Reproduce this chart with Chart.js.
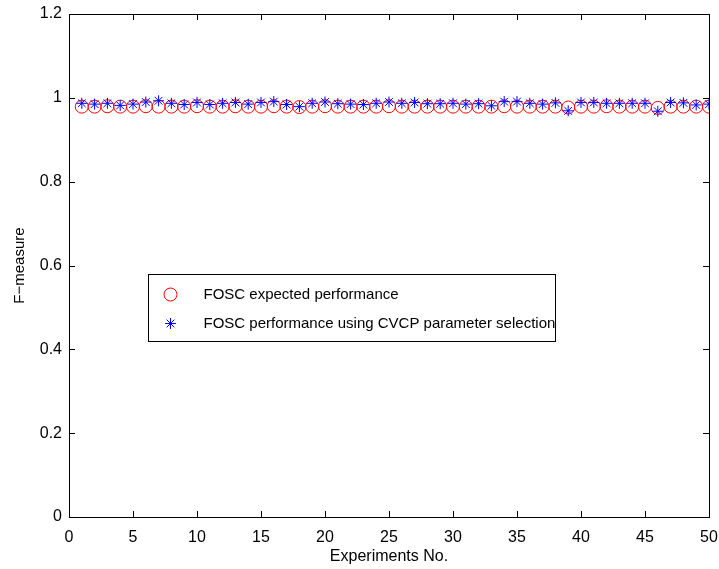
<!DOCTYPE html>
<html>
<head>
<meta charset="utf-8">
<script src="https://cdn.jsdelivr.net/npm/chart.js@4.4.1/dist/chart.umd.min.js"></script>
<style>
  html, body { margin: 0; padding: 0; background: #fff; }
  #wrap { width: 719px; height: 569px; }
</style>
</head>
<body>
<div id="wrap"><canvas id="mycanvas" width="719" height="569"></canvas></div>
<script>
// experiment numbers 1..50
var experiments = [1,2,3,4,5,6,7,8,9,10,11,12,13,14,15,16,17,18,19,20,
  21,22,23,24,25,26,27,28,29,30,31,32,33,34,35,36,37,38,39,40,
  41,42,43,44,45,46,47,48,49,50];

// FOSC expected performance (red circles)
var expected = [0.979,0.979,0.980,0.979,0.979,0.980,0.979,0.979,0.979,0.980,
  0.979,0.979,0.980,0.979,0.979,0.980,0.979,0.978,0.979,0.980,
  0.979,0.979,0.979,0.979,0.980,0.979,0.979,0.979,0.979,0.979,
  0.979,0.979,0.979,0.980,0.979,0.979,0.979,0.979,0.977,0.979,
  0.979,0.980,0.979,0.979,0.979,0.976,0.979,0.979,0.979,0.979];

// FOSC performance using CVCP parameter selection (blue asterisks)
var cvcp = [0.987,0.985,0.987,0.982,0.985,0.990,0.993,0.987,0.984,0.989,
  0.984,0.987,0.989,0.985,0.989,0.991,0.984,0.979,0.987,0.990,
  0.986,0.985,0.984,0.987,0.990,0.987,0.989,0.986,0.986,0.987,
  0.985,0.986,0.981,0.991,0.991,0.987,0.985,0.988,0.969,0.989,
  0.989,0.987,0.987,0.987,0.987,0.968,0.989,0.988,0.983,0.985];

var xTicks = [0,5,10,15,20,25,30,35,40,45,50];
var yTicks = [0,0.2,0.4,0.6,0.8,1,1.2];

var labels = ["FOSC expected performance", "FOSC performance using CVCP parameter selection"];

function toPoints(xs, ys) {
  var out = [];
  for (var i = 0; i < xs.length; i++) out.push({x: xs[i], y: ys[i]});
  return out;
}

var FONT = "'Liberation Sans', Arial, Helvetica, sans-serif";

// matlab style box + inward ticks on all four sides
var boxPlugin = {
  id: 'box',
  afterDraw: function(chart) {
    var ctx = chart.ctx, a = chart.chartArea;
    var sx = chart.scales.x, sy = chart.scales.y;
    var L = 6;
    ctx.save();
    ctx.strokeStyle = '#000';
    ctx.lineWidth = 1;
    ctx.beginPath();
    xTicks.forEach(function(v){
      var px = Math.round(sx.getPixelForValue(v)) + 0.5;
      if (v === xTicks[0] || v === xTicks[xTicks.length-1]) return;
      ctx.moveTo(px, a.bottom); ctx.lineTo(px, a.bottom - L);
      ctx.moveTo(px, a.top); ctx.lineTo(px, a.top + L);
    });
    yTicks.forEach(function(v){
      var py = Math.round(sy.getPixelForValue(v)) + 0.5;
      if (v === yTicks[0] || v === yTicks[yTicks.length-1]) return;
      ctx.moveTo(a.left, py); ctx.lineTo(a.left + L, py);
      ctx.moveTo(a.right, py); ctx.lineTo(a.right - L, py);
    });
    ctx.stroke();
    ctx.strokeRect(Math.round(a.left) + 0.5, Math.round(a.top) + 0.5,
      Math.round(a.right - a.left), Math.round(a.bottom - a.top));
    ctx.restore();
  }
};

// legend box inside the plot
var legendPlugin = {
  id: 'innerLegend',
  afterDraw: function(chart) {
    var ctx = chart.ctx, a = chart.chartArea;
    var w = a.right - a.left, h = a.bottom - a.top;
    var x0 = Math.round(a.left + w * 0.123) + 0.5;
    var x1 = Math.round(a.left + w * 0.76) + 0.5;
    var y0 = Math.round(a.top + h * 0.516) + 0.5;
    var y1 = Math.round(a.top + h * 0.651) + 0.5;
    ctx.save();
    ctx.fillStyle = '#fff';
    ctx.fillRect(x0, y0, x1 - x0, y1 - y0);
    ctx.strokeStyle = '#000';
    ctx.lineWidth = 1;
    ctx.strokeRect(x0, y0, x1 - x0, y1 - y0);
    var rows = [y0 + 20, y0 + 49];
    chart.data.datasets.forEach(function(ds, i) {
      ctx.strokeStyle = ds.borderColor;
      ctx.fillStyle = 'rgba(0,0,0,0)';
      ctx.lineWidth = ds.borderWidth;
      Chart.helpers.drawPoint(ctx, {
        pointStyle: ds.pointStyle, radius: ds.pointRadius,
        borderWidth: ds.borderWidth, rotation: 0
      }, x0 + 22, rows[i]);
      ctx.fillStyle = '#000';
      ctx.font = '15px ' + FONT;
      ctx.textBaseline = 'middle';
      ctx.textAlign = 'left';
      ctx.fillText(ds.label, x0 + 55, rows[i]);
    });
    ctx.restore();
  }
};

var chartdata = {
  datasets: [
    {
      label: labels[0],
      data: toPoints(experiments, expected),
      showLine: false,
      pointStyle: 'circle',
      pointRadius: 6.5,
      pointHoverRadius: 6.5,
      borderWidth: 1,
      borderColor: 'rgb(255, 0, 0)',
      backgroundColor: 'rgba(0,0,0,0)',
      order: 2
    },
    {
      label: labels[1],
      data: toPoints(experiments, cvcp),
      showLine: false,
      pointStyle: 'star',
      pointRadius: 5.5,
      pointHoverRadius: 5.5,
      borderWidth: 1,
      borderColor: 'rgb(0, 0, 255)',
      backgroundColor: 'rgb(0, 0, 255)',
      order: 1
    }
  ]
};

var ctx = document.getElementById('mycanvas');

var scatter = new Chart(ctx, {
  type: 'scatter',
  data: chartdata,
  plugins: [legendPlugin, boxPlugin],
  options: {
    responsive: false,
    animation: false,
    layout: { padding: { top: 14, right: 10, left: 0, bottom: 0 } },
    plugins: {
      legend: { display: false },
      tooltip: { enabled: false }
    },
    scales: {
      x: {
        type: 'linear',
        min: 0, max: 50,
        afterFit: function(s) { s.height = 52; s.paddingLeft = 0; s.paddingRight = 0; },
        afterBuildTicks: function(s) { s.ticks = xTicks.map(function(v){ return {value: v}; }); },
        grid: { display: false, drawTicks: false, tickLength: 0 },
        border: { display: false },
        ticks: {
          padding: 11, color: '#000', maxRotation: 0,
          font: { family: FONT, size: 16 }
        },
        title: {
          display: true, text: 'Experiments No.', color: '#000',
          font: { family: FONT, size: 16 },
          padding: { top: 0, bottom: 3 }
        }
      },
      y: {
        type: 'linear',
        min: 0, max: 1.2,
        afterFit: function(s) { s.width = 69; s.paddingTop = 0; s.paddingBottom = 0; },
        afterBuildTicks: function(s) { s.ticks = yTicks.map(function(v){ return {value: v}; }); },
        grid: { display: false, drawTicks: false, tickLength: 0 },
        border: { display: false },
        ticks: {
          padding: 7, color: '#000',
          font: { family: FONT, size: 16 },
          callback: function(v) { return String(+(+v).toFixed(1)); }
        },
        title: {
          display: true, text: 'F\u2212measure', color: '#000',
          font: { family: FONT, size: 15 },
          padding: { top: 11, bottom: 0 }
        }
      }
    }
  }
});
</script>
</body>
</html>
